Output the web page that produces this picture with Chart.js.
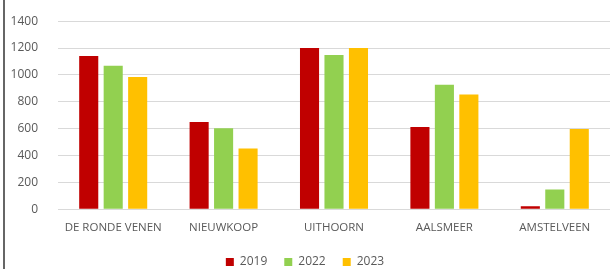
<!DOCTYPE html>
<html>
<head>
<meta charset="utf-8">
<script src="https://cdn.jsdelivr.net/npm/chart.js@4"></script>
<style>
  body { margin: 0; background: #fff; }
  #wrap { position: relative; width: 613px; height: 269px; overflow: hidden; }
  #mycanvas { position: absolute; left: 0; top: -6px; }
  #edge { position: absolute; left: 3px; top: 0; width: 2px; height: 269px; background: #666; }
</style>
</head>
<body>
<div id="wrap">
  <canvas id="mycanvas" width="613" height="275"></canvas>
  <div id="edge"></div>
</div>
<script>
var gemeenten = ['DE RONDE VENEN', 'NIEUWKOOP', 'UITHOORN', 'AALSMEER', 'AMSTELVEEN'];
var jaren = ['2019', '2022', '2023'];
var v2019 = [1140, 650, 1200, 612, 22];
var v2022 = [1068, 602, 1148, 926, 146];
var v2023 = [985, 452, 1200, 854, 597];
var kleuren = ['#C00000', '#92D050', '#FFC000'];

var reeksen = [v2019, v2022, v2023];
var datasets = [];
for (var i in jaren) {
  datasets.push({
    label: jaren[i],
    backgroundColor: kleuren[i],
    data: reeksen[i],
    categoryPercentage: 0.665,
    barPercentage: 0.78
  });
}

var ctx = document.getElementById('mycanvas');
var grijs = '#595959';

new Chart(ctx, {
  type: 'bar',
  data: { labels: gemeenten, datasets: datasets },
  options: {
    responsive: false,
    animation: false,
    layout: { autoPadding: false, padding: { top: 21, right: 3, bottom: -9, left: 0 } },
    plugins: {
      tooltip: { enabled: false },
      legend: {
        position: 'bottom',
        labels: {
          boxWidth: 8, boxHeight: 8, padding: 17,
          color: grijs,
          font: { family: 'Open Sans', size: 12 }
        }
      }
    },
    scales: {
      x: {
        grid: { display: false },
        border: { display: false },
        ticks: { color: grijs, padding: 4, maxRotation: 0, font: { family: 'Open Sans', size: 11.5 } }
      },
      y: {
        min: 0, max: 1400,
        afterFit: function(s) { s.width = 58; },
        grid: { color: '#d9d9d9', drawTicks: false },
        border: { display: false },
        ticks: {
          stepSize: 200, color: grijs, padding: 20,
          font: { family: 'Open Sans', size: 12 },
          callback: function(v) { return String(v); }
        }
      }
    }
  }
});
</script>
</body>
</html>
